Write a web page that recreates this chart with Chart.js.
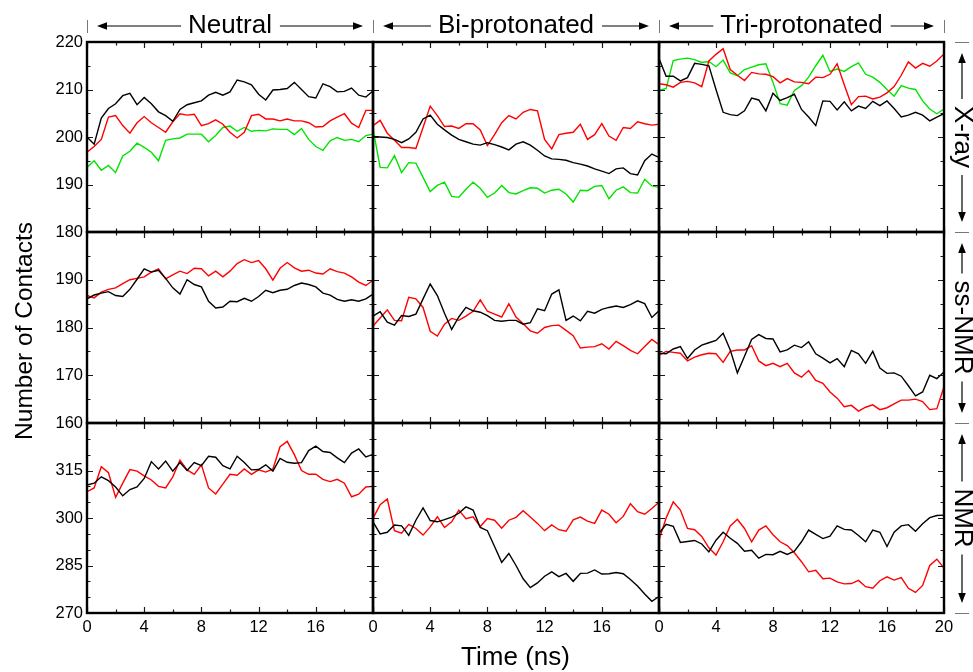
<!DOCTYPE html>
<html>
<head>
<meta charset="utf-8">
<script src="https://cdn.jsdelivr.net/npm/chart.js@4.4.1/dist/chart.umd.min.js"></script>
<style>
  html, body { margin: 0; padding: 0; background: #fff; }
  #wrap { position: relative; width: 973px; height: 672px; overflow: hidden; }
  #wrap canvas { position: absolute; left: 0; top: 0; }
</style>
</head>
<body>
<div id="wrap"><canvas id="deco" width="973" height="672"></canvas></div>
<script>
// contacts vs time, 3 protonation states (columns) x 3 starting structures (rows)

const TIME = [0,0.5,1,1.5,2,2.5,3,3.5,4,4.5,5,5.5,6,6.5,7,7.5,8,8.5,9,9.5,10,
  10.5,11,11.5,12,12.5,13,13.5,14,14.5,15,15.5,16,16.5,17,17.5,18,18.5,19,19.5,20];
const X_TICKS = [0, 4, 8, 12, 16, 20];
const Y_TICKS_XRAY = [180, 190, 200, 210, 220];
const Y_TICKS_SSNMR = [160, 170, 180, 190, 200];
const Y_TICKS_NMR = [270, 285, 300, 315, 330];
const COLUMNS = ['Neutral', 'Bi-protonated', 'Tri-protonated'];
const ROWS = ['X-ray', 'ss-NMR', 'NMR'];

// X-ray row
const XRAY_NEU_BLACK = [200,198.5,204,206,207,208.7,209.2,206.8,208.3,207,205.3,204.5,203.3,205.8,206.8,207.2,207.6,208.8,209.4,208.8,209.5,
  212,211.6,211,209,207.8,209.9,210,210.2,211.5,210,208.5,208.2,211.2,210.6,209.5,209.6,210.3,208.8,208.4,209.7];
const XRAY_NEU_RED = [196.8,198,199.5,204.2,204.5,202.4,200.8,203,204.3,203,202,201,203.2,204.9,204.6,204.8,202.4,202.8,203.6,202.7,201,
  199.8,201,204.5,204.8,203.8,203.8,203.4,203.8,203.4,203.4,203,202.1,202.2,203.4,204.2,204.9,202.9,202,205.6,205.6];
const XRAY_NEU_GREEN = [193.6,195,193,194,192.5,196,197,198.7,197.8,196.8,195,199.3,199.6,199.8,200.6,200.6,200.6,199,200.3,202,202.3,
  201.2,202,201.2,201.4,201.3,201.7,201.6,201.6,200.5,201.8,199.5,198,197.2,199.2,199.9,199.3,199.5,199,200.3,200.6];

const XRAY_BI_BLACK = [200.1,200,199.9,199.5,198.8,199.6,201,203.8,204.6,202.7,201.5,200.4,199.5,199,198.5,198.3,198.8,198.4,197.9,197.3,198.5,
  199,198.3,197.2,196,195.4,195.3,195.1,194.6,194.3,193.9,193.3,192.8,192.3,193.3,193.5,192.3,192,195,196.4,195.7];
const XRAY_BI_RED = [202.4,203.5,200.8,199.3,197.8,197.8,197.6,202,206.5,204.5,202.2,202.3,201.8,202.8,202.8,201.5,198.2,200.5,203,204.5,203.8,
  205.2,205.8,205.5,199.5,197.5,200.5,200.8,201,202.7,199.5,200.5,202.8,200.2,199.3,202,201.8,203.2,202.8,202.5,202.7];
const XRAY_BI_GREEN = [201.7,193.6,193.5,196.1,192.5,194.6,194.5,191.5,188.5,189.8,190.5,187.5,187.3,189,190.5,189.2,187.3,188.2,189.8,188.3,188,
  188.7,189.3,189.2,188.2,188.8,189,188,186.3,188.8,188.7,189.6,189.8,187,188.8,189.5,188.3,188.2,191.1,189.7,189.4];

const XRAY_TRI_BLACK = [216.5,212.8,212.8,211.8,212.5,215.5,215.3,215,210,205.2,204.7,204.5,205.5,208.2,207.8,205.5,209.2,207.7,208.3,209,205.8,
  204.2,202.4,207.6,207.5,205.7,207.4,205.5,206.5,206,207.5,206.6,207.6,206,204.2,204.6,205.2,204.6,203.4,204.2,204.9];
const XRAY_TRI_RED = [211.2,211,210.5,211.5,211.7,211.4,210.6,216,217.4,218.6,214.2,213,211.9,213.6,213.3,213.2,212.7,211.4,212.3,211.6,211.5,
  211.2,212.6,212.5,213.2,215.4,211,206.8,208.5,208.6,208,208.4,209.3,210.6,213,215.8,214.5,215.5,214.9,216,217.5];
const XRAY_TRI_GREEN = [209.8,210.2,216.1,216.4,216.6,216.3,215.7,215.9,214.8,216.2,213.5,212.9,214.2,214.7,215.2,215.4,211.5,207,206.7,209.8,210.8,
  212.6,215,217.2,213.8,214.3,213.8,214.8,215.6,213.2,212.6,211.5,210,208.6,210.8,210.3,210,207.6,205.9,204.9,205.9];

// ss-NMR row
const SSNMR_NEU_BLACK = [186,186.8,187.2,187.5,186.7,186.5,188,190.1,192.3,191.6,192,190.3,188.3,187,190,189,188.5,185.5,184.1,184.3,185.5,
  185.4,186.1,185.5,186.5,187.8,187.3,187.8,188,188.8,189.3,189,188.5,187.2,186.8,185.9,185.5,185.8,185.5,186,187];
const SSNMR_NEU_RED = [186.7,186.2,187.4,188,188.3,189.2,190,190.3,190.6,191.6,192.3,190.2,191,191.8,191.3,192.4,192.3,190.8,191.8,190.6,191.8,
  193.4,194.2,193.6,194,192.3,189.9,192.4,193.6,192.5,191.8,192,191.4,191.2,192.3,191.7,191.4,190.6,189.5,188.8,189.9];

const SSNMR_BI_BLACK = [182.4,183.3,181.1,180.5,182.5,182.3,182.8,186,189.1,186.7,183,179.6,182.2,184.2,183.5,183.2,182.5,181.5,181.3,181.5,181.5,
  180.7,181,183.9,183.5,187,187.9,181.5,182.4,181.4,183.4,183,183.8,184.2,184.5,184.2,184.8,185.6,185,182.1,183.5];
const SSNMR_BI_RED = [180.3,182,183.7,181.5,181.4,186.3,186,184.2,179.2,178.2,180.7,181.9,181.5,182.4,183.4,185.8,183.4,182.8,182.2,185,182.2,
  180.8,179.3,178.8,180,180.4,180.5,179.4,178.3,175.7,175.9,176,176.6,175.5,177.1,176.2,175.2,174.5,176,177.5,176.4];

const SSNMR_TRI_BLACK = [174.6,174.5,175.5,176,173.5,175.3,176.3,176.8,177.3,178.8,175.3,170.5,174,177.5,178.5,177.7,177.6,174.9,175.3,176.3,175.8,
  177,174.5,173.6,172.6,173.5,171.8,175.2,174.5,172.5,175,171.5,170.4,170.5,169.8,167.8,165.7,166.5,170,169.3,170.7];
const SSNMR_TRI_RED = [174.2,175,174.8,174.6,173,173.8,174.3,174.6,174.5,172.7,175,175.3,175.3,176.2,173,172,172.5,171.8,172.5,170.5,169.6,
  171,168.9,168.3,166.5,165.2,163.4,163.7,162.5,163.3,163.8,162.8,163.2,164,164.8,164.8,165,164.5,162.8,163,167.6];

// NMR row
const NMR_NEU_BLACK = [310.4,311,313,311.8,309.8,307,309,309.8,312.5,317.8,315.5,318,314.8,317.5,315,317.5,316.5,319.5,319.2,316.5,315.5,
  319.5,317.5,315.2,315.3,316.8,314.8,318.8,317.6,317.3,317.5,321.3,322.7,321,320.7,319,317.5,320.5,321.8,319.3,320.1];
const NMR_NEU_RED = [308.3,309.5,316.2,314.3,306.5,311,315.3,314.8,313.3,312,310,309.5,313,318.3,315.2,313.8,316.8,309.5,307.6,310.7,313.8,
  313.5,315.5,313.8,315.2,314.5,315.5,322.5,324.2,320,315,313.8,313.8,312.2,311.5,312.2,311,306.7,307.5,309.8,310];

const NMR_BI_BLACK = [298.8,295,295.5,297.8,297.5,294.5,299.3,303.2,299.2,298.8,299.5,300.3,301.5,303.5,302.5,297,296,291,286,288.8,285,
  280.8,278,279.5,281.6,283,281.5,282.5,280,282.5,282.6,283.6,282.3,282.4,282.8,282.4,280.6,278.5,276,273.7,275.2];
const NMR_BI_RED = [299.9,304.2,306,296,295.2,298,296.7,294.6,297.2,300.4,297,298.8,302.5,299.8,300.4,297.3,299.8,299.3,296.8,299.3,300.2,
  302.3,300.3,298.3,296,297.8,296.3,295.8,299.4,300.3,299,298.3,302.5,301.2,298.5,300.5,304.5,302,301.2,303,305];

const NMR_TRI_BLACK = [295.2,298,297.4,292.3,292.6,292.9,291.8,289.3,293,295.5,293.6,292,289.5,289.8,287.3,288.5,288.4,289.5,288.5,289.5,292.5,
  296.2,294.8,293.5,294.3,297.5,296.4,296.2,294.5,292.5,296.2,295.5,291,295.5,297.5,297.9,295.8,298.2,300.1,300.8,300.9];
const NMR_TRI_RED = [293.1,300,305.1,302.5,296.7,296.3,294.2,290.6,288.3,292.5,297.5,299.6,296.7,292.5,296.2,297.5,294.7,292.5,291.3,289,286.2,
  283,283.5,280.8,281,279.8,279.2,279.3,280.3,278.3,277.8,280.2,281.4,280.4,281.2,277.8,276.5,278.7,285,287,284.2];

// layout
const W = 973, H = 672;
const COL_EDGES = [87, 373, 659, 944];
const ROW_EDGES = [42, 232, 423, 613];
const AXW = 40, AXH = 30;
const FONT = '"Liberation Sans", Arial, Helvetica, sans-serif';
const BLACK = '#000000', RED = '#ff0000', GREEN = '#00e400';

const ROW_Y_TICKS = [Y_TICKS_XRAY, Y_TICKS_SSNMR, Y_TICKS_NMR];
const PANEL_SERIES = [
  [[XRAY_NEU_BLACK, XRAY_NEU_RED, XRAY_NEU_GREEN], [XRAY_BI_BLACK, XRAY_BI_RED, XRAY_BI_GREEN], [XRAY_TRI_BLACK, XRAY_TRI_RED, XRAY_TRI_GREEN]],
  [[SSNMR_NEU_BLACK, SSNMR_NEU_RED], [SSNMR_BI_BLACK, SSNMR_BI_RED], [SSNMR_TRI_BLACK, SSNMR_TRI_RED]],
  [[NMR_NEU_BLACK, NMR_NEU_RED], [NMR_BI_BLACK, NMR_BI_RED], [NMR_TRI_BLACK, NMR_TRI_RED]],
];
const SERIES_COLORS = [BLACK, RED, GREEN];

// inward major/minor ticks on all four sides + frame
const framePlugin = {
  id: 'frame',
  afterDraw(chart) {
    const { ctx, chartArea: a, scales: { x, y } } = chart;
    const yTicks = chart.options.plugins.frame.yTicks;
    const yMajor = yTicks[1] - yTicks[0];
    ctx.save();
    ctx.strokeStyle = '#1a1a1a';
    ctx.lineWidth = 1.2;
    ctx.beginPath();
    for (let v = x.min; v <= x.max; v += 2) {
      const px = Math.round(x.getPixelForValue(v)) + 0.5;
      const len = v % 4 === 0 ? 6 : 3.5;
      ctx.moveTo(px, a.top); ctx.lineTo(px, a.top + len);
      ctx.moveTo(px, a.bottom); ctx.lineTo(px, a.bottom - len);
    }
    for (let v = y.min; v <= y.max; v += 5) {
      const py = Math.round(y.getPixelForValue(v)) + 0.5;
      const len = (v - y.min) % yMajor === 0 ? 6 : 3.5;
      ctx.moveTo(a.left, py); ctx.lineTo(a.left + len, py);
      ctx.moveTo(a.right, py); ctx.lineTo(a.right - len, py);
    }
    ctx.stroke();
    ctx.strokeStyle = '#000';
    ctx.lineWidth = 2.4;
    ctx.strokeRect(a.left, a.top, a.right - a.left, a.bottom - a.top);
    ctx.restore();
  }
};

const wrap = document.getElementById('wrap');

function makePanel(r, c) {
  const cv = document.createElement('canvas');
  cv.width = W; cv.height = H;
  wrap.appendChild(cv);
  const left = COL_EDGES[c], right = COL_EDGES[c + 1];
  const top = ROW_EDGES[r], bottom = ROW_EDGES[r + 1];
  const yTicks = ROW_Y_TICKS[r];
  const showX = r === 2, showY = c === 0;

  const datasets = PANEL_SERIES[r][c].map((vals, i) => ({
    data: TIME.map((t, k) => ({ x: t, y: vals[k] })),
    borderColor: SERIES_COLORS[i],
    borderWidth: 1.4,
    pointRadius: 0,
    fill: false,
    tension: 0,
  }));

  return new Chart(cv, {
    type: 'line',
    data: { datasets },
    options: {
      responsive: false,
      animation: false,
      events: [],
      layout: { padding: { left: left - AXW, top: top, right: W - right, bottom: H - bottom - AXH } },
      plugins: { legend: { display: false }, tooltip: { enabled: false }, frame: { yTicks } },
      scales: {
        x: {
          type: 'linear', min: X_TICKS[0], max: X_TICKS[X_TICKS.length - 1],
          grid: { display: false, drawTicks: false }, border: { display: false },
          afterBuildTicks: s => { s.ticks = X_TICKS.map(v => ({ value: v })); },
          ticks: {
            display: showX, padding: 5, color: '#000', maxRotation: 0, autoSkip: false,
            font: { family: FONT, size: 16.5 },
            callback: v => (c < 2 && v === 20) ? '' : String(v),
          },
          afterFit: s => { s.height = AXH; s.paddingLeft = 0; s.paddingRight = 0; },
        },
        y: {
          type: 'linear', min: yTicks[0], max: yTicks[yTicks.length - 1],
          grid: { display: false, drawTicks: false }, border: { display: false },
          afterBuildTicks: s => { s.ticks = yTicks.map(v => ({ value: v })); },
          ticks: {
            display: showY, padding: 4, color: '#000', autoSkip: false,
            font: { family: FONT, size: 16.5 },
            callback: v => (r > 0 && v === yTicks[yTicks.length - 1]) ? '' : String(v),
          },
          afterFit: s => { s.width = AXW; s.paddingTop = 0; s.paddingBottom = 0; },
        },
      },
    },
    plugins: [framePlugin],
  });
}

for (let r = 0; r < 3; r++) for (let c = 0; c < 3; c++) makePanel(r, c);

// headers, side labels, axis titles
const dc = document.getElementById('deco').getContext('2d');

function arrow(ctx, x1, y1, x2, y2) {
  // line from (x1,y1) to tip at (x2,y2)
  const ang = Math.atan2(y2 - y1, x2 - x1);
  const L = 10, hw = 3.8;
  ctx.beginPath();
  ctx.moveTo(x1, y1);
  ctx.lineTo(x2 - Math.cos(ang) * (L - 1), y2 - Math.sin(ang) * (L - 1));
  ctx.stroke();
  ctx.beginPath();
  ctx.moveTo(x2, y2);
  ctx.lineTo(x2 - Math.cos(ang) * L - Math.sin(ang) * hw, y2 - Math.sin(ang) * L + Math.cos(ang) * hw);
  ctx.lineTo(x2 - Math.cos(ang) * L + Math.sin(ang) * hw, y2 - Math.sin(ang) * L - Math.cos(ang) * hw);
  ctx.closePath();
  ctx.fill();
}

dc.fillStyle = '#000';
dc.strokeStyle = '#000';
dc.font = '26px ' + FONT;
dc.textAlign = 'center';
dc.textBaseline = 'middle';

const HEAD_Y = 26;
COLUMNS.forEach((name, i) => {
  const x0 = COL_EDGES[i], x1 = COL_EDGES[i + 1], cx = (x0 + x1) / 2;
  dc.fillText(name, cx, HEAD_Y);
  const tw = dc.measureText(name).width;
  dc.lineWidth = 1.2;
  arrow(dc, cx - tw / 2 - 7, HEAD_Y, x0 + 10, HEAD_Y);
  arrow(dc, cx + tw / 2 + 8, HEAD_Y, x1 - 10, HEAD_Y);
  dc.save();
  dc.strokeStyle = '#777';
  dc.lineWidth = 1;
  dc.beginPath();
  dc.moveTo(x0 + 0.5, 20); dc.lineTo(x0 + 0.5, 33);
  dc.moveTo(x1 + 0.5, 20); dc.lineTo(x1 + 0.5, 33);
  dc.stroke();
  dc.restore();
});

const SIDE_X = 962;
ROWS.forEach((name, j) => {
  const y0 = ROW_EDGES[j], y1 = ROW_EDGES[j + 1], cy = (y0 + y1) / 2;
  const tw = dc.measureText(name).width;
  dc.save();
  dc.translate(SIDE_X + 0.5, cy);
  dc.rotate(Math.PI / 2);
  dc.fillText(name, 0, 0);
  dc.restore();
  dc.lineWidth = 1.2;
  arrow(dc, SIDE_X, cy - tw / 2 - 7, SIDE_X, y0 + 11);
  arrow(dc, SIDE_X, cy + tw / 2 + 7, SIDE_X, y1 - 10);
  dc.save();
  dc.strokeStyle = '#777';
  dc.lineWidth = 1;
  dc.beginPath();
  dc.moveTo(955, y0 + 0.5); dc.lineTo(969, y0 + 0.5);
  dc.moveTo(955, y1 + 0.5); dc.lineTo(969, y1 + 0.5);
  dc.stroke();
  dc.restore();
});

dc.save();
dc.font = '24.5px ' + FONT;
dc.textBaseline = 'alphabetic';
dc.translate(32, 331);
dc.rotate(-Math.PI / 2);
dc.fillText('Number of Contacts', 0, 0);
dc.restore();

dc.font = '26px ' + FONT;
dc.textBaseline = 'alphabetic';
dc.fillText('Time (ns)', (COL_EDGES[0] + COL_EDGES[3]) / 2, 665);
</script>
</body>
</html>
